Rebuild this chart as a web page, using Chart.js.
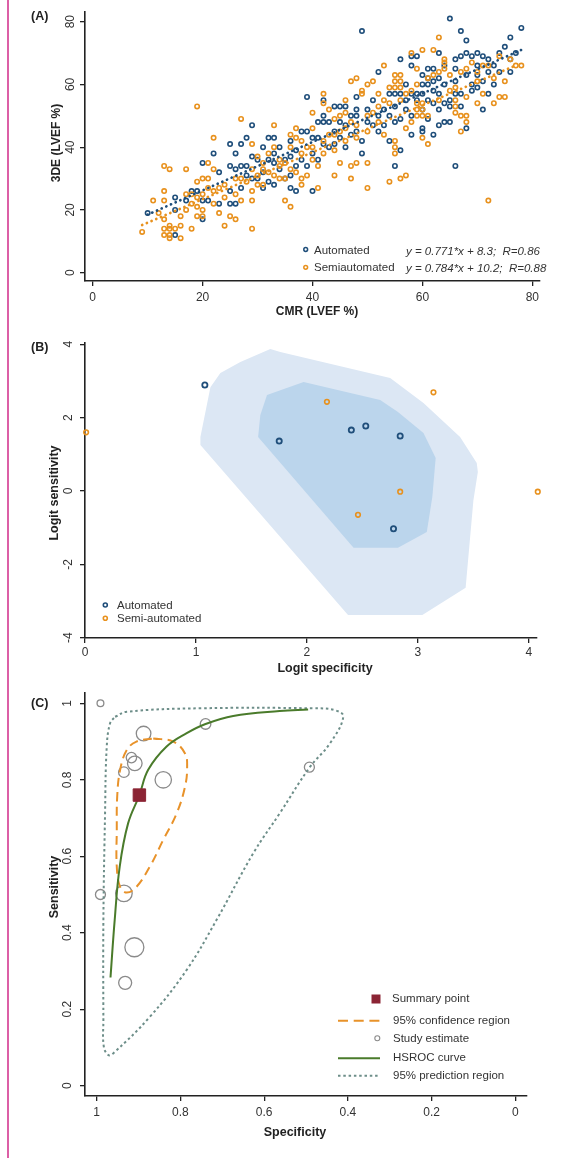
<!DOCTYPE html>
<html>
<head>
<meta charset="utf-8">
<title>LVEF agreement and diagnostic accuracy</title>
<script src="https://cdn.jsdelivr.net/npm/chart.js@4.4.1/dist/chart.umd.min.js"></script>
<style>
html, body { margin: 0; padding: 0; background: #fff; }
body { position: relative; width: 563px; height: 1158px; overflow: hidden; }
canvas { position: absolute; left: 0; }
#edge { position: absolute; left: 7px; top: 0; width: 2px; height: 1158px; background: #dc5fa6; }
</style>
</head>
<body>
<canvas id="chartA" width="563" height="330" style="top:0px"></canvas>
<canvas id="chartB" width="563" height="350" style="top:330px"></canvas>
<canvas id="chartC" width="563" height="478" style="top:680px"></canvas>
<div id="edge"></div>
<script>
// ---------- Panel A: 3DE vs CMR LVEF (%) ----------
const cmrTicks = [0, 20, 40, 60, 80];
const lvefTicks = [0, 20, 40, 60, 80];

const automatedPts = [
	[10,19],[15,24],[15,12],[15,20],[17,23],[18,26],[19,26],[20,23],[21,23],[20,17],[20,35],[23,22],[23,32],[22,38],
	[25,22],[26,22],[25,26],[27,27],[25,34],[27,34],[28,34],[26,33],[26,38],[25,41],[27,41],[28,43],[29,47],[29,37],
	[31,40],[32,43],[33,43],[33,38],[29,30],[28,31],[30,30],[31,32],[32,29],[31,27],[33,28],[30,36],[32,36],[33,35],
	[34,33],[35,30],[35,36],[36,31],[36,37],[37,39],[38,36],[34,40],[36,27],[37,26],[40,26],[37,34],[39,34],[36,42],
	[38,45],[39,45],[40,43],[41,43],[42,41],[40,38],[41,36],[43,40],[44,41],[46,40],[41,48],[42,48],[43,48],[42,50],
	[42,55],[39,56],[44,53],[45,53],[46,53],[44,45],[45,43],[45,48],[46,47],[47,44],[47,50],[48,45],[48,50],[48,52],
	[48,56],[49,42],[49,38],[50,48],[50,52],[51,47],[51,55],[52,45],[52,50],[53,47],[53,52],[54,50],[54,42],[55,48],
	[55,53],[56,39],[55,34],[56,49],[57,52],[57,55],[58,50],[58,44],[60,45],[60,46],[61,49],[62,44],[63,47],[64,48],
	[65,48],[60,52],[62,54],[63,52],[64,54],[65,53],[65,55],[61,55],[59,55],[54,57],[55,57],[56,57],[58,57],[59,57],
	[60,57],[60,60],[61,60],[61,62],[62,61],[63,62],[62,58],[63,57],[64,60],[66,57],[66,61],[67,57],[67,53],[69,58],
	[69,60],[70,59],[71,52],[68,46],[72,57],[71,61],[73,60],[68,63],[70,63],[52,64],[57,60],[60,63],[62,65],[61,65],
	[64,66],[58,66],[58,69],[59,69],[56,68],[63,70],[66,65],[66,68],[67,69],[68,70],[69,69],[70,70],[71,69],[70,66],
	[72,68],[73,66],[72,64],[74,64],[76,64],[74,70],[75,72],[76,68],[77,70],[65,81],[78,78],[67,77],[68,74],[76,75],
	[49,77],[66,34]
];

const semiautomatedPts = [
	[9,13],[11,23],[12,19],[13,34],[13,26],[13,23],[13,17],[13,14],[13,12],[14,33],[14,14],[14,15],[14,12],[14,11],
	[15,14],[16,15],[16,11],[16,18],[17,33],[17,20],[17,25],[18,14],[18,25],[18,22],[19,53],[19,29],[19,24],[19,21],
	[19,18],[20,30],[20,25],[20,20],[20,18],[21,35],[21,30],[21,27],[22,43],[22,33],[22,26],[22,22],[23,27],[23,19],
	[24,28],[24,24],[24,15],[25,18],[26,30],[26,25],[26,17],[27,49],[27,30],[27,23],[28,29],[29,41],[29,33],[29,26],
	[29,23],[29,14],[30,37],[30,31],[30,28],[31,35],[31,33],[31,28],[32,38],[32,32],[33,47],[33,40],[33,31],[34,36],
	[34,34],[34,30],[35,35],[35,30],[35,23],[36,33],[36,40],[36,44],[36,21],[37,32],[37,43],[37,46],[38,28],[38,30],
	[38,38],[38,42],[39,31],[39,40],[40,36],[40,40],[40,46],[40,51],[41,27],[41,34],[42,38],[42,42],[42,54],[42,57],
	[43,44],[43,52],[44,31],[44,39],[44,44],[44,49],[45,35],[45,45],[45,50],[46,42],[46,46],[46,51],[46,55],[47,30],
	[47,34],[47,48],[47,61],[48,35],[48,43],[48,47],[48,62],[49,57],[49,58],[50,27],[50,35],[50,45],[50,50],[50,60],
	[51,51],[51,61],[52,48],[52,53],[52,57],[53,44],[53,55],[53,66],[54,29],[54,54],[54,59],[55,38],[55,40],[55,42],
	[55,59],[55,61],[55,63],[56,30],[56,55],[56,59],[56,61],[56,63],[57,31],[57,46],[57,57],[58,48],[58,58],[58,70],
	[59,50],[59,52],[59,54],[59,60],[59,65],[60,43],[60,50],[60,52],[60,54],[60,71],[61,41],[61,50],[61,62],[62,63],
	[62,71],[63,55],[63,64],[63,75],[64,65],[64,67],[64,68],[65,58],[65,63],[66,51],[66,53],[66,55],[66,59],[67,45],
	[67,50],[67,64],[68,48],[68,50],[68,56],[68,65],[69,67],[70,54],[70,61],[70,64],[71,57],[71,66],[72,23],[72,66],
	[73,54],[73,62],[74,56],[74,69],[75,56],[75,61],[76,68],[77,66],[78,66]
];

// fitted lines, end points
const autoFitCMR = [10, 78];
const autoFit3DE = [18.5, 71];
const semiFitCMR = [9, 77.2];
const semiFit3DE = [15.2, 66.2];
const autoEquation = 'y = 0.771*x + 8.3;  R=0.86';
const semiEquation = 'y = 0.784*x + 10.2;  R=0.88';

// ---------- Panel B: logit plane ----------
const logitSpecTicks = [0, 1, 2, 3, 4];
const logitSensTicks = [-4, -2, 0, 2, 4];
const automatedLogit = [[1.08,2.89],[1.75,1.36],[2.40,1.66],[2.53,1.77],[2.84,1.50],[2.78,-1.03]];
const semiLogit = [[0.01,1.60],[2.18,2.43],[3.14,2.69],[2.84,-0.02],[2.46,-0.65],[4.08,-0.02]];
const outerRegionB = [
	[1.04,1.47],[1.13,2.83],[1.22,3.22],[1.40,3.52],[1.67,3.87],[1.76,3.79],[2.75,3.08],[3.05,2.40],
	[3.38,1.47],[3.53,0.76],[3.54,0.52],[3.50,-0.25],[3.43,-2.64],[3.04,-3.38],[2.37,-3.38],[1.04,1.25],[1.04,1.47]
];
const innerRegionB = [
	[1.56,1.47],[1.58,2.07],[1.64,2.62],[1.97,2.97],[2.66,2.48],[2.82,2.15],[3.05,1.58],[3.16,0.90],
	[3.13,-0.16],[3.08,-1.12],[2.82,-1.55],[2.42,-1.55],[1.56,1.47]
];

// ---------- Panel C: SROC ----------
const specTicks = [0, 0.2, 0.4, 0.6, 0.8, 1];
const specTickLabels = ['0', '0.2', '0.4', '0.6', '0.8', '1'];
const sensTicks = [0, 0.2, 0.4, 0.6, 0.8, 1];
const sensTickLabels = ['0', '0.2', '0.4', '0.6', '0.8', '1'];

const studySpec = [0.991, 0.888, 0.740, 0.917, 0.909, 0.935, 0.841, 0.991, 0.935, 0.492, 0.910, 0.932];
const studySens = [1.000, 0.921, 0.946, 0.858, 0.843, 0.820, 0.800, 0.500, 0.503, 0.833, 0.362, 0.269];
const studyWeight = [3.4, 7.3, 5.3, 5.2, 7.3, 5.3, 8.2, 5.0, 8.3, 5.0, 9.5, 6.5];

const summarySpec = [0.898];
const summarySens = [0.760];

const hsrocSpec = [0.967, 0.957, 0.945, 0.925, 0.898, 0.877, 0.833, 0.785, 0.740, 0.674, 0.563, 0.495];
const hsrocSens = [0.283, 0.433, 0.573, 0.686, 0.760, 0.826, 0.887, 0.922, 0.946, 0.967, 0.980, 0.984];

const confSpec = [0.865,0.817,0.789,0.784,0.789,0.809,0.841,0.873,0.905,0.928,0.944,0.952,0.952,0.951,0.944,0.928,0.905,0.865];
const confSens = [0.908,0.900,0.869,0.834,0.782,0.712,0.643,0.573,0.520,0.505,0.520,0.573,0.669,0.756,0.826,0.878,0.900,0.908];

const predSpec = [0.956,0.928,0.753,0.483,0.431,0.411,0.443,0.491,0.563,0.626,0.714,0.785,0.873,0.960,0.972,0.983,0.984,0.984,0.980,0.976,0.968,0.956];
const predSens = [0.965,0.978,0.987,0.987,0.982,0.965,0.895,0.833,0.712,0.608,0.433,0.303,0.180,0.085,0.080,0.102,0.172,0.433,0.712,0.886,0.948,0.965];

// ---------- styling ----------
const FONT = '"Liberation Sans", Arial, Helvetica, sans-serif';
const INK = '#222';
const TICK_INK = '#333';
const BLUE = '#1f4e7a';
const ORANGE = '#e8911d';
const OUTER_FILL = '#dce7f4';
const INNER_FILL = '#bbd5ec';
const GREEN = '#4a7b2b';
const PRED = '#6d8e89';
const CONF = '#e8922a';
const STUDY = '#8a8a8a';
const SUMMARY = '#8b2434';

function zip(xs, ys) { return xs.map((x, i) => ({ x: x, y: ys[i] })); }
function pts(list) { return list.map(p => ({ x: p[0], y: p[1] })); }

function axis(o) {
	return {
		type: 'linear',
		min: o.min, max: o.max, reverse: !!o.reverse,
		afterBuildTicks: s => { s.ticks = o.ticks.map(v => ({ value: v })); },
		afterFit: s => { if (o.vertical) s.width = o.size; else s.height = o.size; },
		grid: { drawOnChartArea: false, drawTicks: true, tickLength: 5, color: INK, lineWidth: 1.3 },
		border: { display: true, color: INK, width: 1.6 },
		ticks: {
			autoSkip: false,
			color: TICK_INK,
			font: { family: FONT, size: 12 },
			padding: o.pad,
			minRotation: o.vertical ? 90 : 0,
			maxRotation: o.vertical ? 90 : 0,
			crossAlign: o.vertical ? 'center' : 'near',
			callback: (v, i) => o.labels[i]
		}
	};
}

function baseOptions(top, right, xAxis, yAxis) {
	return {
		responsive: false,
		animation: false,
		devicePixelRatio: 1,
		layout: { padding: { left: 0, top: top, right: right, bottom: 0 } },
		plugins: { legend: { display: false }, tooltip: { enabled: false } },
		events: [],
		scales: { x: xAxis, y: yAxis }
	};
}

function drawTexts(ctx, items) {
	items.forEach(it => {
		ctx.save();
		ctx.font = it.font;
		ctx.fillStyle = it.color || INK;
		ctx.textAlign = it.align || 'center';
		ctx.textBaseline = 'middle';
		ctx.translate(it.x, it.y);
		if (it.rot) ctx.rotate(it.rot);
		ctx.fillText(it.t, 0, 0);
		ctx.restore();
	});
}

function ring(ctx, x, y, r, color, lw) {
	ctx.beginPath();
	ctx.arc(x, y, r, 0, Math.PI * 2);
	ctx.strokeStyle = color;
	ctx.lineWidth = lw;
	ctx.stroke();
}

function hline(ctx, x1, x2, y, color, lw, dash) {
	ctx.beginPath();
	ctx.setLineDash(dash || []);
	ctx.moveTo(x1, y);
	ctx.lineTo(x2, y);
	ctx.strokeStyle = color;
	ctx.lineWidth = lw;
	ctx.stroke();
	ctx.setLineDash([]);
}

const UP = -Math.PI / 2;
const TITLE12 = 'bold 12px ' + FONT;
const TITLE125 = 'bold 12.5px ' + FONT;
const LEG = '11.5px ' + FONT;

// ---------- chart A ----------
new Chart(document.getElementById('chartA'), {
	type: 'scatter',
	data: {
		datasets: [
			{ label: 'Automated fit', data: zip(autoFitCMR, autoFit3DE), showLine: true, borderColor: BLUE,
				borderWidth: 2.7, borderDash: [0.1, 5], borderCapStyle: 'round', pointRadius: 0, order: 0 },
			{ label: 'Semiautomated fit', data: zip(semiFitCMR, semiFit3DE), showLine: true, borderColor: ORANGE,
				borderWidth: 2.7, borderDash: [0.1, 5], borderCapStyle: 'round', pointRadius: 0, order: 0 },
			{ label: 'Semiautomated', data: pts(semiautomatedPts), pointRadius: 2.2, borderWidth: 1.6,
				borderColor: ORANGE, backgroundColor: 'rgba(0,0,0,0)', order: 1 },
			{ label: 'Automated', data: pts(automatedPts), pointRadius: 2.2, borderWidth: 1.6,
				borderColor: BLUE, backgroundColor: 'rgba(0,0,0,0)', order: 2 }
		]
	},
	options: baseOptions(12, 23,
		axis({ min: -1.4, max: 81.4, ticks: cmrTicks, labels: cmrTicks.map(String), size: 49, pad: 4 }),
		axis({ min: -2.65, max: 83.09, ticks: lvefTicks, labels: lvefTicks.map(String), size: 85, pad: 3, vertical: true })),
	plugins: [{
		id: 'panelA',
		afterDraw(chart) {
			const ctx = chart.ctx;
			ring(ctx, 305.7, 249.5, 1.9, BLUE, 1.5);
			ring(ctx, 305.7, 267.3, 1.9, ORANGE, 1.5);
			drawTexts(ctx, [
				{ t: '(A)', x: 31, y: 17, font: TITLE125, align: 'left' },
				{ t: '3DE (LVEF %)', x: 57, y: 143, font: TITLE12, rot: UP },
				{ t: 'CMR (LVEF %)', x: 317, y: 312, font: TITLE12 },
				{ t: 'Automated', x: 314, y: 251, font: LEG, align: 'left', color: '#333' },
				{ t: 'Semiautomated', x: 314, y: 268, font: LEG, align: 'left', color: '#333' },
				{ t: autoEquation, x: 406, y: 251.5, font: 'italic ' + LEG, align: 'left', color: '#333' },
				{ t: semiEquation, x: 406, y: 268.5, font: 'italic ' + LEG, align: 'left', color: '#333' }
			]);
		}
	}]
});

// ---------- chart B ----------
new Chart(document.getElementById('chartB'), {
	type: 'scatter',
	data: {
		datasets: [
			{ label: 'Automated', data: pts(automatedLogit), pointRadius: 2.6, borderWidth: 1.8,
				borderColor: BLUE, backgroundColor: 'rgba(0,0,0,0)', order: 1, clip: false },
			{ label: 'Semi-automated', data: pts(semiLogit), pointRadius: 2.3, borderWidth: 1.6,
				borderColor: ORANGE, backgroundColor: 'rgba(0,0,0,0)', order: 1, clip: false },
			{ label: 'inner region', data: pts(innerRegionB), showLine: true, fill: 'shape', tension: 0,
				backgroundColor: INNER_FILL, borderColor: 'rgba(0,0,0,0)', borderWidth: 0.01, pointRadius: 0, order: 3 },
			{ label: 'outer region', data: pts(outerRegionB), showLine: true, fill: 'shape', tension: 0,
				backgroundColor: OUTER_FILL, borderColor: 'rgba(0,0,0,0)', borderWidth: 0.01, pointRadius: 0, order: 4 }
		]
	},
	options: baseOptions(13, 26,
		axis({ min: 0, max: 4.073, ticks: logitSpecTicks, labels: logitSpecTicks.map(String), size: 42, pad: 2 }),
		axis({ min: -4.01, max: 4.035, ticks: logitSensTicks, labels: logitSensTicks.map(String), size: 85, pad: 5.5, vertical: true })),
	plugins: [{
		id: 'panelB',
		afterDraw(chart) {
			const ctx = chart.ctx;
			ring(ctx, 105.3, 275, 2, BLUE, 1.6);
			ring(ctx, 105.3, 288.3, 2, ORANGE, 1.6);
			drawTexts(ctx, [
				{ t: '(B)', x: 31, y: 18, font: TITLE125, align: 'left' },
				{ t: 'Logit sensitivity', x: 55, y: 163, font: TITLE125, rot: UP },
				{ t: 'Logit specificity', x: 325, y: 339, font: TITLE125 },
				{ t: 'Automated', x: 117, y: 275.5, font: LEG, align: 'left', color: '#333' },
				{ t: 'Semi-automated', x: 117, y: 288.5, font: LEG, align: 'left', color: '#333' }
			]);
		}
	}]
});

// ---------- chart C ----------
new Chart(document.getElementById('chartC'), {
	type: 'scatter',
	data: {
		datasets: [
			{ label: 'Summary point', data: zip(summarySpec, summarySens), pointStyle: 'rect', pointRadius: 8.8,
				backgroundColor: SUMMARY, borderColor: SUMMARY, borderWidth: 1, order: 0 },
			{ label: 'HSROC curve', data: zip(hsrocSpec, hsrocSens), showLine: true, borderColor: GREEN,
				borderWidth: 2, tension: 0.4, pointRadius: 0, order: 1 },
			{ label: '95% confidence region', data: zip(confSpec, confSens), showLine: true, borderColor: CONF,
				borderWidth: 2, borderDash: [9, 5.5], tension: 0.4, pointRadius: 0, order: 2 },
			{ label: '95% prediction region', data: zip(predSpec, predSens), showLine: true, borderColor: PRED,
				borderWidth: 2, borderDash: [2.5, 2.8], tension: 0.4, pointRadius: 0, order: 3 },
			{ label: 'Study estimate', data: zip(studySpec, studySens), pointRadius: studyWeight,
				borderColor: STUDY, borderWidth: 1.3, backgroundColor: 'rgba(0,0,0,0)', order: 4, clip: false }
		]
	},
	options: baseOptions(13, 36,
		axis({ min: -0.0277, max: 1.0279, reverse: true, ticks: specTicks, labels: specTickLabels, size: 62, pad: 4 }),
		axis({ min: -0.027, max: 1.027, ticks: sensTicks, labels: sensTickLabels, size: 85, pad: 3.7, vertical: true })),
	plugins: [{
		id: 'panelC',
		afterDraw(chart) {
			const ctx = chart.ctx;
			ctx.save();
			ctx.fillStyle = SUMMARY;
			ctx.fillRect(371.5, 314.5, 9, 9);
			hline(ctx, 338, 380, 340.7, CONF, 2, [10, 5.7]);
			ring(ctx, 377.3, 358.3, 2.5, STUDY, 1.1);
			hline(ctx, 338, 380, 378.3, GREEN, 2);
			hline(ctx, 338, 380, 395.7, PRED, 2, [2.5, 2.8]);
			ctx.restore();
			drawTexts(ctx, [
				{ t: '(C)', x: 31, y: 23.5, font: TITLE125, align: 'left' },
				{ t: 'Sensitivity', x: 55, y: 207, font: TITLE125, rot: UP },
				{ t: 'Specificity', x: 295, y: 453, font: TITLE125 },
				{ t: 'Summary point', x: 392, y: 319, font: LEG, align: 'left', color: '#333' },
				{ t: '95% confidence region', x: 393, y: 340.5, font: LEG, align: 'left', color: '#333' },
				{ t: 'Study estimate', x: 393, y: 358.5, font: LEG, align: 'left', color: '#333' },
				{ t: 'HSROC curve', x: 393, y: 378, font: LEG, align: 'left', color: '#333' },
				{ t: '95% prediction region', x: 393, y: 396, font: LEG, align: 'left', color: '#333' }
			]);
		}
	}]
});
</script>
</body>
</html>
